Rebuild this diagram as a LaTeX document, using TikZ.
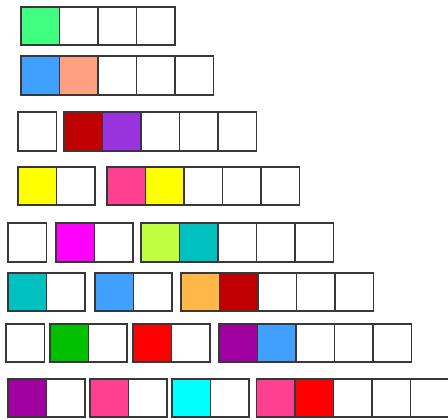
\documentclass[tikz,border=0pt]{standalone}
\usepackage{tikz}
\definecolor{cgreen}{HTML}{40FF80}
\definecolor{cblue}{HTML}{40A0FF}
\definecolor{csalmon}{HTML}{FFA080}
\definecolor{cdarkred}{HTML}{C00000}
\definecolor{cpurple}{HTML}{9933DD}
\definecolor{cyellow}{HTML}{FFFF00}
\definecolor{cpink}{HTML}{FF4090}
\definecolor{cmagenta}{HTML}{FF00FF}
\definecolor{clime}{HTML}{C0FF40}
\definecolor{cteal}{HTML}{00C0C0}
\definecolor{corange}{HTML}{FFB848}
\definecolor{cgreentwo}{HTML}{00C000}
\definecolor{cred}{HTML}{FF0000}
\definecolor{cplum}{HTML}{A000A0}
\definecolor{ccyan}{HTML}{00FFFF}
\definecolor{cline}{HTML}{383838}
\tikzset{cell/.style={draw=cline, line width=1.9pt, minimum size=38.5pt, inner sep=0pt, outer sep=0pt}}
\newcommand{\grp}[4]{%
  \foreach \cc [count=\ii] in {#4} {
    \node[cell, fill=\cc] (#1-\ii) at ({#2 + (\ii-1)*38.5 + 19.25}, #3) {};
  }%
}
\begin{document}
\begin{tikzpicture}[x=1pt,y=1pt]
\useasboundingbox (0,0) rectangle (448,420);
\clip (0,0) rectangle (448,420);
\fill[white] (0,0) rectangle (448,420);
% row 1
\grp{ra}{21}{394}{cgreen,white,white,white}
% row 2
\grp{rb}{21}{344.5}{cblue,csalmon,white,white,white}
% row 3
\grp{rca}{18}{288.5}{white}
\grp{rcb}{64}{288.5}{cdarkred,cpurple,white,white,white}
% row 4
\grp{rda}{18}{234}{cyellow,white}
\grp{rdb}{107}{234}{cpink,cyellow,white,white,white}
% row 5
\grp{rea}{8}{177.5}{white}
\grp{reb}{56}{177.5}{cmagenta,white}
\grp{rec}{141}{177.5}{clime,cteal,white,white,white}
% row 6
\grp{rfa}{8}{128}{cteal,white}
\grp{rfb}{95}{128}{cblue,white}
\grp{rfc}{181}{128}{corange,cdarkred,white,white,white}
% row 7
\grp{rga}{6}{77}{white}
\grp{rgb}{50}{77}{cgreentwo,white}
\grp{rgc}{133}{77}{cred,white}
\grp{rgd}{219}{77}{cplum,cblue,white,white,white}
% row 8
\grp{rha}{8}{22}{cplum,white}
\grp{rhb}{90}{22}{cpink,white}
\grp{rhc}{172}{22}{ccyan,white}
\grp{rhd}{256.5}{22}{cpink,cred,white,white,white}
\end{tikzpicture}
\end{document}
